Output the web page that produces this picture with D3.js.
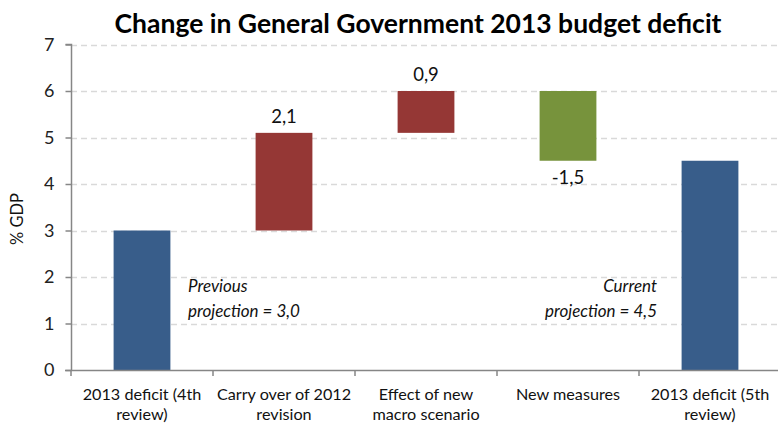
<!DOCTYPE html>
<html>
<head>
<meta charset="utf-8">
<script src="https://cdn.jsdelivr.net/npm/d3@7"></script>
<style>
  html, body { margin: 0; padding: 0; background: #fff; }
  svg { display: block; font-family: Lato, "Open Sans", sans-serif; }
</style>
</head>
<body>
<svg id="chart" width="778" height="423"></svg>
<script>
// Waterfall of the 2013 general government deficit (% of GDP)
const categories = [
  ["2013 deficit (4th", "review)"],
  ["Carry over of 2012", "revision"],
  ["Effect of new", "macro scenario"],
  ["New measures"],
  ["2013 deficit (5th", "review)"]
];
const steps = [3.0, 2.1, 0.9, -1.5, 4.5];          // totals and changes
const kinds = ["total", "up", "up", "down", "total"];
const valueLabels = ["", "2,1", "0,9", "-1,5", ""];
const yTicks = [0, 1, 2, 3, 4, 5, 6, 7];

const colors = { total: "#385D8A", up: "#953735", down: "#77933C" };

// Build floating segments: totals start at 0, changes start at the running sum
let running = 0;
const bars = steps.map((v, i) => {
  let lo, hi;
  if (kinds[i] === "total") { lo = 0; hi = v; running = v; }
  else { lo = running; hi = running + v; running = hi; }
  return { i, lo: Math.min(lo, hi), hi: Math.max(lo, hi), kind: kinds[i], v };
});

const svg = d3.select("#chart");
const plotLeft = 71, plotRight = 781, plotTop = 44.5, plotBottom = 370;

const x = d3.scaleBand().domain(d3.range(categories.length)).range([plotLeft, plotRight]).paddingInner(0).paddingOuter(0);
const y = d3.scaleLinear().domain([0, 7]).range([plotBottom, plotTop]);
const barW = x.bandwidth() * 0.4;

// Gridlines
svg.append("g").selectAll("line").data(yTicks.filter(t => t > 0)).join("line")
  .attr("x1", plotLeft).attr("x2", 778)
  .attr("y1", d => Math.round(y(d)) + 0.5).attr("y2", d => Math.round(y(d)) + 0.5)
  .attr("stroke", "#D9D9D9").attr("stroke-width", 1.5).attr("stroke-dasharray", "6,4");

// Bars
svg.append("g").selectAll("rect").data(bars).join("rect")
  .attr("x", d => x(d.i) + (x.bandwidth() - barW) / 2)
  .attr("width", barW)
  .attr("y", d => y(d.hi))
  .attr("height", d => y(d.lo) - y(d.hi))
  .attr("fill", d => colors[d.kind]);

// Y axis
const yAxis = svg.append("g").attr("transform", `translate(${plotLeft + 0.5},0)`)
  .call(d3.axisLeft(y).tickValues(yTicks).tickSize(6).tickPadding(11).tickFormat(d3.format("d")));
yAxis.select(".domain").attr("stroke", "#868686").attr("stroke-width", 1.5).attr("d", `M-6,${y(7)}H0V${plotBottom}`);
yAxis.selectAll(".tick line").attr("stroke", "#868686").attr("stroke-width", 1.5);
yAxis.selectAll(".tick text").attr("font-size", 18).attr("fill", "#222").attr("font-family", "Lato, sans-serif");

// X axis
const xAxis = svg.append("g").attr("transform", `translate(0,${plotBottom + 0.5})`)
  .call(d3.axisBottom(x).tickSize(0).tickFormat(""));
xAxis.select(".domain").attr("stroke", "#868686").attr("stroke-width", 1.5).attr("d", `M${plotLeft - 6},0H${plotRight}`);
svg.append("g").selectAll("line").data(d3.range(categories.length + 1)).join("line")
  .attr("x1", d => plotLeft + d * x.bandwidth()).attr("x2", d => plotLeft + d * x.bandwidth())
  .attr("y1", plotBottom).attr("y2", plotBottom + 6)
  .attr("stroke", "#868686").attr("stroke-width", 1.5);

// Category labels
const catG = svg.append("g").attr("font-size", 16.2).attr("fill", "#111").attr("text-anchor", "middle");
categories.forEach((lines, i) => {
  const t = catG.append("text").attr("x", x(i) + x.bandwidth() / 2).attr("y", 400);
  lines.forEach((ln, k) => t.append("tspan").attr("x", x(i) + x.bandwidth() / 2).attr("dy", k ? 20 : 0).text(ln));
});

// Value labels on the change bars
svg.append("g").selectAll("text").data(bars.filter(d => valueLabels[d.i])).join("text")
  .attr("x", d => x(d.i) + x.bandwidth() / 2)
  .attr("y", d => d.kind === "down" ? y(d.lo) + 23 : y(d.hi) - 10)
  .attr("text-anchor", "middle").attr("font-size", 18.5).attr("fill", "#111")
  .text(d => valueLabels[d.i]);

// Annotations
const ann = svg.append("g").attr("font-size", 17).attr("font-style", "italic").attr("fill", "#111");
ann.append("text").attr("x", 188).attr("y", 292).text("Previous");
ann.append("text").attr("x", 188).attr("y", 317).text("projection = 3,0");
ann.append("text").attr("x", 657).attr("y", 292).attr("text-anchor", "end").text("Current");
ann.append("text").attr("x", 657).attr("y", 317).attr("text-anchor", "end").text("projection = 4,5");

// Y axis title
svg.append("text").attr("transform", "translate(23,219) rotate(-90)")
  .attr("text-anchor", "middle").attr("font-size", 16.5).attr("fill", "#111").text("% GDP");

// Title
svg.append("text").attr("x", 418).attr("y", 33).attr("text-anchor", "middle")
  .attr("font-size", 26.5).attr("font-weight", "bold").attr("fill", "#000")
  .text("Change in General Government 2013 budget deficit");
</script>
</body>
</html>
